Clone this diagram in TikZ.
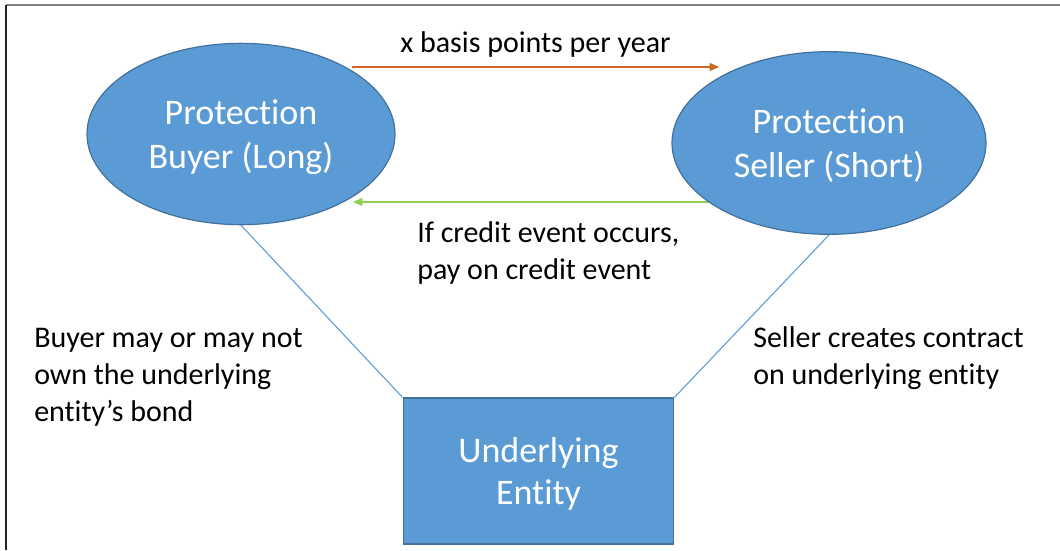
\documentclass[tikz,border=0pt]{standalone}
\usepackage{fontspec}
\setmainfont{Carlito}[Ligatures=CommonOff]
\usepackage{tikz}
\usetikzlibrary{shapes,arrows.meta,positioning}
\pgfdeclarelayer{background}
\pgfsetlayers{background,main}
\definecolor{nodeblue}{HTML}{5B9BD5}
\definecolor{edgeblue}{HTML}{41719C}
\definecolor{payorange}{HTML}{D0661E}
\definecolor{paygreen}{HTML}{92D050}
\tikzstyle{blueellipse}=[ellipse, draw=edgeblue, fill=nodeblue, line width=0.9pt, text=white, align=center, inner sep=0pt, text depth=0pt, font=\fontsize{27}{33.5}\selectfont]
\tikzstyle{bluebox}=[rectangle, draw=edgeblue, fill=nodeblue, line width=0.9pt, text=white, align=center, text depth=0pt, minimum width=203pt, minimum height=109.5pt, font=\fontsize{27}{31.5}\selectfont]
\tikzstyle{note}=[align=left, inner sep=0pt, font=\fontsize{22.5}{27.75}\selectfont]
\tikzstyle{payarrow}=[-{Triangle[length=7pt,width=6pt]}, line width=0.8pt]
\tikzstyle{sideline}=[draw=nodeblue, line width=0.8pt]

\begin{document}
\begin{tikzpicture}[x=0.75pt,y=-0.75pt]
\useasboundingbox (0,0) rectangle (1060,550);

% page frame
\draw[gray, line width=1.5pt] (6,5) -- (1060,5);
\draw[black!85, line width=1.5pt] (6,5) -- (6,550);

\node[blueellipse, minimum width=231pt, minimum height=136pt](p1) at (241,134) {Protection\\Buyer (Long)};
\node[blueellipse, minimum width=235.5pt, minimum height=137pt](p2) at (829,143) {Protection\\Seller (Short)};
\node[bluebox](p3) at (538.5,471) {Underlying\\Entity};

\node[note, anchor=west](t1) at (417,253) {If credit event occurs,\\pay on credit event};
\node[note, anchor=west](t2) at (34,377) {Buyer may or may not\\own the underlying\\entity’s bond};
\node[note, anchor=west](t3) at (753,358) {Seller creates contract\\on underlying entity};

\coordinate (c1) at (352,67);
\coordinate (c2) at (719,67);
\coordinate (c3) at (720,202);
\coordinate (c4) at (353,202);

\begin{pgfonlayer}{background}
\draw[payarrow, payorange](c1) -- node[note, above=7pt, text=black] {x basis points per year} (c2);
\draw[payarrow, paygreen](c3) -- (c4);
\draw[sideline](p1.south) -- (p3.north west);
\draw[sideline](p2.south) -- (p3.north east);
\end{pgfonlayer}

\end{tikzpicture}
\end{document}
